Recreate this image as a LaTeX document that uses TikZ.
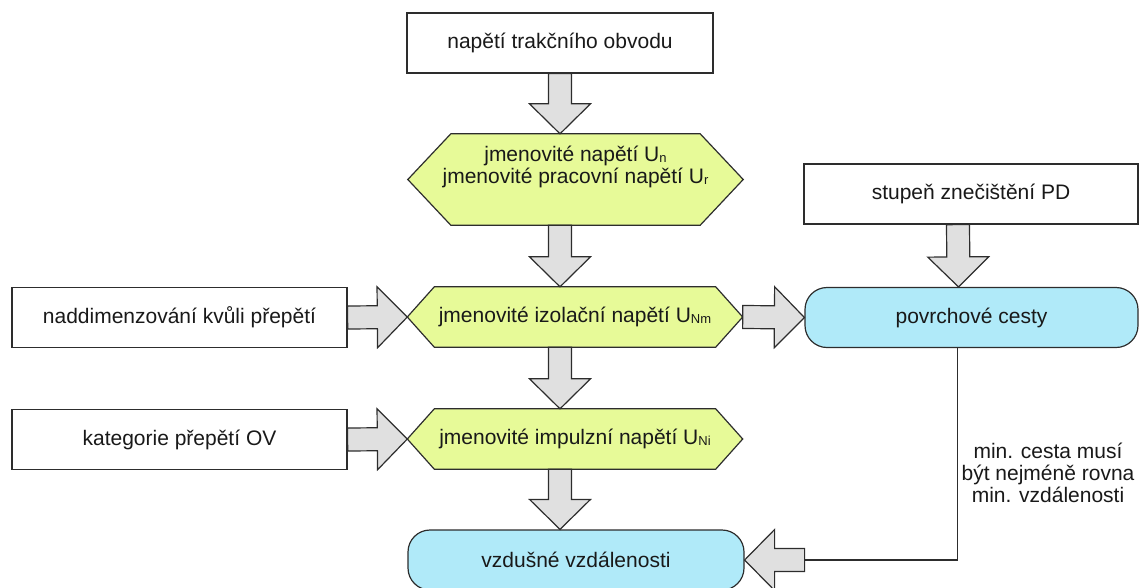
\documentclass[tikz,border=0pt]{standalone}
\usepackage{fontspec}
\setmainfont{Liberation Sans}
\usetikzlibrary{calc,backgrounds}
\definecolor{hexgreen}{RGB}{231,250,152}
\definecolor{pathblue}{RGB}{176,234,249}
\definecolor{arrgrey}{RGB}{224,224,224}
\definecolor{edgegrey}{RGB}{45,45,45}
\newcommand\lowidx[1]{\raisebox{-1pt}{\fontsize{13}{13}\selectfont #1}}
\newcommand\bigarrow[2]{%
  \draw[blockarr] let \p1=(#1), \p2=(#2),
    \n1={atan2(\y2-\y1,\x2-\x1)}, \n2={veclen(\x2-\x1,\y2-\y1)} in
    [shift={(\p1)},rotate=\n1]
    (0,-11.5) -- (\n2-30,-11.5) -- (\n2-30,-30.5) -- (\n2,0)
    -- (\n2-30,30.5) -- (\n2-30,11.5) -- (0,11.5) -- cycle;}

\begin{document}
\begin{tikzpicture}[x=1pt,y=-1pt,
  every node/.style={font=\fontsize{21}{22}\selectfont,text=black!90},
  plainbox/.style={draw=edgegrey,fill=white,line width=1.2pt,inner sep=0,minimum width=334,minimum height=60},
  hexbox/.style={inner sep=0,minimum width=335,minimum height=60,align=center},
  hexline/.style={draw=edgegrey,fill=hexgreen,line width=1.2pt},
  pathbox/.style={draw=edgegrey,fill=pathblue,line width=1.2pt,rounded corners=22pt,inner sep=0,minimum width=334,minimum height=60},
  blockarr/.style={draw=edgegrey,fill=arrgrey,line width=1.2pt},
  retline/.style={draw=edgegrey,line width=1.2pt}]
\useasboundingbox (0,0) rectangle (1140,587);
\node[plainbox,minimum width=306] (top) at (560,43) {napětí trakčního obvodu};
\node[hexbox,minimum height=91,text depth=29pt] (hexa) at (575.5,179.5) {jmenovité napětí U\lowidx{n}\\jmenovité pracovní napětí U\lowidx{r}};
\node[hexbox] (hexb) at (575,317) {jmenovité izolační napětí U\lowidx{Nm}};
\node[hexbox] (hexc) at (575,439) {jmenovité impulzní napětí U\lowidx{Ni}};
\node[pathbox,minimum width=336] (bot) at (576,560) {vzdušné vzdálenosti};
\node[plainbox,minimum width=335] (over) at (179.5,317.5) {naddimenzování kvůli přepětí};
\node[plainbox,minimum width=335] (ovcat) at (179.5,439.5) {kategorie přepětí OV};
\node[plainbox] (pd) at (971,194) {stupeň znečištění PD};
\node[pathbox,minimum width=333] (povr) at (971.5,317.5) {povrchové cesty};
\node[align=center] (rule) at (1048,473) {min. cesta musí\\být nejméně rovna\\min. vzdálenosti};
\coordinate (ret) at ([xshift=60]bot.east);
\begin{scope}[on background layer]
\foreach \h/\d in {hexa/43,hexb/27,hexc/27}
  \draw[hexline] (\h.west) -- ([xshift=\d]\h.north west) -- ([xshift=-\d]\h.north east)
    -- (\h.east) -- ([xshift=-\d]\h.south east) -- ([xshift=\d]\h.south west) -- cycle;
\end{scope}
\bigarrow{top.south}{top.south |- hexa.north}
\bigarrow{top.south |- hexa.south}{top.south |- hexb.north}
\bigarrow{top.south |- hexb.south}{top.south |- hexc.north}
\bigarrow{top.south |- hexc.south}{top.south |- bot.north}
\bigarrow{over.east}{hexb.west}
\bigarrow{ovcat.east}{hexc.west}
\bigarrow{hexb.east}{povr.west}
\bigarrow{[xshift=-13]pd.south}{[xshift=-13]povr.north}
\draw[retline] ([xshift=-14]povr.south) |- (ret);
\bigarrow{ret}{bot.east}
\end{tikzpicture}
\end{document}
